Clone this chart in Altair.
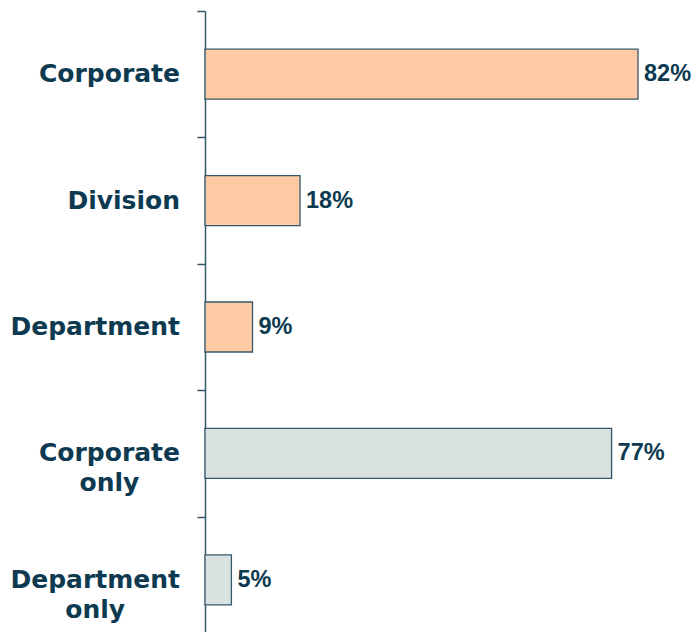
import altair as alt
import pandas as pd

# ---- data ----
categories = ["Corporate", "Division", "Department", "Corporate only", "Department only"]
label_lines = [["Corporate"], ["Division"], ["Department"], ["Corporate", "only"], ["Department", "only"]]
values = [82, 18, 9, 77, 5]
groups = ["level", "level", "level", "exclusive", "exclusive"]

# ---- styling ----
TEXT = "#0D3A50"
LINE = "#35576B"
FILL = ["#FFCBA5", "#D9E2E1"]
LABEL_FS = 25
LABEL_GAP = 25

# DejaVu Sans Bold advance widths (fraction of em) used to centre the second label line
ADV = {"C": 0.734, "D": 0.830, "a": 0.675, "e": 0.678, "i": 0.343, "l": 0.343,
       "m": 1.042, "n": 0.712, "o": 0.687, "p": 0.716, "r": 0.493, "s": 0.595,
       "t": 0.478, "v": 0.652, "y": 0.652, " ": 0.348}


def text_width(s):
    return sum(ADV.get(c, 0.65) for c in s) * LABEL_FS


df = pd.DataFrame({
    "category": categories,
    "value": values,
    "group": groups,
    "pct": [f"{v}%" for v in values],
    "label": label_lines,
    "cx": [-(LABEL_GAP + text_width(l[0]) / 2) for l in label_lines],
})

base = alt.Chart(df)

y_scale = alt.Scale(paddingInner=0, paddingOuter=0, range=[0, 632])

y_enc = alt.Y(
    "category:N",
    sort=categories,
    scale=y_scale,
    axis=alt.Axis(
        title=None,
        labels=False,
        grid=False,
        tickBand="extent",
        tickSize=8,
        tickWidth=1.5,
        tickColor=LINE,
        domainColor=LINE,
        domainWidth=1.5,
    ),
)

x_scale = alt.Scale(domain=[0, 82], range=[0, 433], nice=False, zero=True)

bars = base.mark_bar(size=50, stroke=LINE, strokeWidth=1.3).encode(
    x=alt.X("value:Q", scale=x_scale, axis=None),
    y=y_enc,
    color=alt.Color("group:N", scale=alt.Scale(domain=["level", "exclusive"], range=FILL), legend=None),
)

pct = base.mark_text(
    align="left", baseline="middle", dx=6,
    font="Liberation Sans", fontWeight="bold", fontSize=23.5, color=TEXT,
).encode(
    x=alt.X("value:Q", scale=x_scale, axis=None),
    y=alt.Y("category:N", sort=categories),
    text="pct:N",
)

labels = base.mark_text(
    align="center", baseline="middle", lineHeight=30,
    font="DejaVu Sans", fontWeight="bold", fontSize=LABEL_FS, color=TEXT,
).encode(
    x=alt.X("cx:Q", scale=None, axis=None),
    y=alt.Y("category:N", sort=categories),
    text="label",
)

chart = alt.layer(bars, pct, labels).properties(
    width=486,
    height=621,
    autosize=alt.AutoSizeParams(type="none"),
    padding={"left": 197, "top": 3, "right": 0, "bottom": 0},
    background="white",
).configure_view(stroke=None)

chart.save("out.html", embed_options={"renderer": "svg", "actions": False})
